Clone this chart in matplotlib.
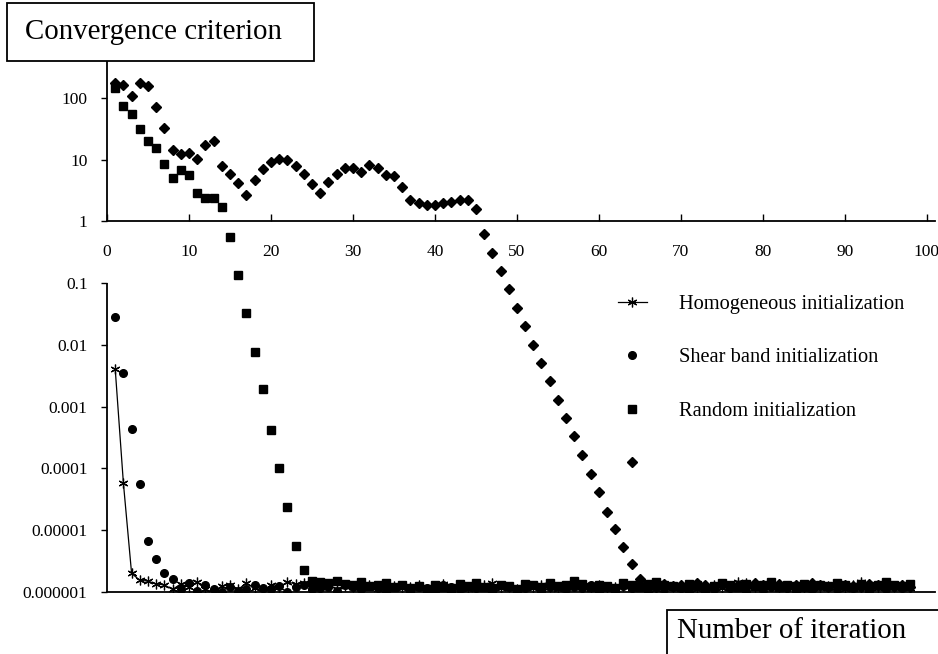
import numpy as np
import matplotlib.pyplot as plt
from matplotlib.patches import Rectangle

plt.rcParams['font.family'] = ['Liberation Serif', 'DejaVu Serif']

# iteration numbers shared by every run
iterations = np.arange(1, 99)

# Homogeneous initialization: iterations 1-8, then converged tail (units of 1e-6) for 9-98
homog_start = [4.1e-3, 5.8e-5, 2.0e-6, 1.55e-6, 1.5e-6, 1.35e-6, 1.3e-6, 1.1e-6]
homog_tail = [1.35, 1.2, 1.45, 1.1, 1.0, 1.25, 1.3, 1.1, 1.4, 1.15,
              1.0, 1.3, 1.2, 1.45, 1.35, 1.4, 1.15, 1.2, 1.3, 1.1,
              1.25, 1.2, 1.15, 1.3, 1.1, 1.2, 1.25, 1.15, 1.2, 1.3,
              1.1, 1.2, 1.35, 1.15, 1.2, 1.1, 1.25, 1.3, 1.4, 1.15,
              1.2, 1.1, 1.25, 1.15, 1.3, 1.2, 1.1, 1.25, 1.45, 1.2,
              1.15, 1.3, 1.1, 1.2, 1.25, 1.15, 1.4, 1.2, 1.1, 1.3,
              1.2, 1.15, 1.25, 1.1, 1.2, 1.3, 1.15, 1.2, 1.45, 1.4,
              1.2, 1.1, 1.25, 1.15, 1.2, 1.3, 1.1, 1.2, 1.15, 1.25,
              1.2, 1.1, 1.3, 1.45, 1.2, 1.15, 1.25, 1.2, 1.3, 1.15]

# Shear band initialization: iterations 1-8, tail 9-98
shear_start = [2.8e-2, 3.5e-3, 4.4e-4, 5.5e-5, 6.8e-6, 3.4e-6, 2.0e-6, 1.6e-6]
shear_tail = [1.1, 1.4, 1.05, 1.3, 1.1, 1.0, 1.2, 1.05, 1.1, 1.3,
              1.15, 1.1, 1.25, 1.0, 1.2, 1.3, 1.1, 1.15, 1.2, 1.05,
              1.3, 1.2, 1.1, 1.25, 1.15, 1.05, 1.2, 1.3, 1.1, 1.2,
              1.15, 1.05, 1.3, 1.2, 1.1, 1.25, 1.15, 1.2, 1.05, 1.3,
              1.2, 1.1, 1.15, 1.3, 1.05, 1.2, 1.25, 1.1, 1.2, 1.15,
              1.3, 1.05, 1.2, 1.1, 1.25, 1.15, 1.2, 1.05, 1.3, 1.1,
              1.2, 1.15, 1.05, 1.25, 1.2, 1.1, 1.3, 1.15, 1.2, 1.05,
              1.25, 1.1, 1.2, 1.3, 1.15, 1.05, 1.2, 1.1, 1.25, 1.2,
              1.1, 1.3, 1.15, 1.2, 1.05, 1.25, 1.1, 1.2, 1.15, 1.3]

# Random initialization (squares): iterations 1-24, tail 25-98
square_start = [145, 74, 55, 31, 20, 15.5, 8.5, 5.0, 6.8, 5.6,
                2.9, 2.4, 2.4, 1.7, 0.56, 0.135, 0.033, 0.0077, 0.0019, 4.2e-4,
                1.0e-4, 2.4e-5, 5.6e-6, 2.3e-6]
square_tail = [1.5, 1.45, 1.4, 1.5, 1.35, 1.3, 1.45, 1.25, 1.3, 1.4,
               1.2, 1.3, 1.15, 1.25, 1.1, 1.3, 1.2, 1.15, 1.35, 1.25,
               1.4, 1.2, 1.15, 1.3, 1.25, 1.1, 1.35, 1.3, 1.2, 1.4,
               1.25, 1.3, 1.5, 1.35, 1.2, 1.3, 1.25, 1.15, 1.4, 1.3,
               1.2, 1.35, 1.45, 1.3, 1.25, 1.2, 1.35, 1.3, 1.15, 1.25,
               1.4, 1.3, 1.2, 1.35, 1.25, 1.3, 1.45, 1.2, 1.3, 1.25,
               1.35, 1.2, 1.3, 1.25, 1.4, 1.3, 1.2, 1.35, 1.25, 1.3,
               1.45, 1.3, 1.25, 1.35]

# Random initialization (diamonds): iterations 1-65, tail 66-98
diamond_start = [175, 162, 105, 175, 155, 71, 32, 14.5, 12.4, 12.9,
                 10.2, 17.4, 20, 7.8, 5.9, 4.2, 2.7, 4.6, 7.0, 9.3,
                 10.3, 10.0, 7.9, 5.9, 4.0, 2.9, 4.3, 5.9, 7.2, 7.3,
                 6.2, 8.2, 7.2, 5.6, 5.5, 3.6, 2.24, 1.95, 1.85, 1.87,
                 1.95, 2.05, 2.2, 2.24, 1.6, 0.62, 0.31, 0.16, 0.08, 0.04,
                 0.02, 0.01, 0.005, 0.0026, 0.0013, 6.5e-4, 3.3e-4, 1.66e-4, 8.1e-5, 4.1e-5,
                 2.0e-5, 1.04e-5, 5.4e-6, 2.85e-6, 1.6e-6]
diamond_tail = [1.3, 1.2, 1.35, 1.25, 1.3, 1.15, 1.4, 1.3, 1.2, 1.35,
                1.25, 1.3, 1.2, 1.4, 1.3, 1.25, 1.35, 1.2, 1.3, 1.25,
                1.4, 1.3, 1.2, 1.35, 1.3, 1.25, 1.2, 1.35, 1.3, 1.4,
                1.25, 1.3, 1.2]

homog = np.concatenate([homog_start, np.array(homog_tail) * 1e-6])
shear = np.concatenate([shear_start, np.array(shear_tail) * 1e-6])
square = np.concatenate([square_start, np.array(square_tail) * 1e-6])
diamond = np.concatenate([diamond_start, np.array(diamond_tail) * 1e-6])

legend_labels = ['Homogeneous initialization', 'Shear band initialization',
                 'Random initialization', '']
ytick_vals = [1e-6, 1e-5, 1e-4, 1e-3, 1e-2, 1e-1, 1, 10, 100]
ytick_labels = ['0.000001', '0.00001', '0.0001', '0.001', '0.01', '0.1', '1', '10', '100']
xtick_vals = np.arange(0, 101, 10)

W, H = 938, 654
fig = plt.figure(figsize=(W / 100, H / 100), dpi=100)
ax = fig.add_axes([107 / W, 1 - 592 / H, 828 / W, 556 / H])

ax.set_yscale('log')
ax.set_xlim(0, 101)
ax.set_ylim(1e-6, 1e3)

h1, = ax.plot(iterations, homog, color='black', lw=0.9, marker=(6, 2, 0),
              markersize=7, markeredgewidth=0.9, zorder=4)
h2, = ax.plot(iterations, shear, ls='none', marker='o', color='black', markersize=5.5, zorder=3)
h3, = ax.plot(iterations, square, ls='none', marker='s', color='black', markersize=5.5, zorder=3)
h4, = ax.plot(iterations, diamond, ls='none', marker='D', color='black', markersize=4.7, zorder=3)

# axis lines: x axis drawn through y = 1, left axis broken between 0.1 and 1
for side in ['top', 'right', 'left']:
    ax.spines[side].set_visible(False)
ax.spines['bottom'].set_position(('data', 1))
ax.spines['bottom'].set_linewidth(1.3)
ax.axhline(1e-6, color='black', lw=1.3, clip_on=False)
ax.vlines(0, 1, 1e3, color='black', lw=1.3, clip_on=False)
ax.vlines(0, 1e-6, 0.1, color='black', lw=1.3, clip_on=False)

ax.set_yticks(ytick_vals)
ax.set_yticklabels(ytick_labels)
ax.yaxis.set_minor_locator(plt.NullLocator())
ax.tick_params(axis='y', direction='out', length=4, width=1, pad=10, labelsize=12.5)

ax.set_xticks(xtick_vals)
ax.tick_params(axis='x', direction='in', length=5, width=1, pad=16, labelsize=12.5)

leg = ax.legend([h1, h2, h3, h4], legend_labels, loc='upper left',
                bbox_to_anchor=(618 / W, 1 - 295 / H), bbox_transform=fig.transFigure,
                frameon=False, fontsize=14.7, handlelength=1.4, handletextpad=1.6,
                labelspacing=1.66, borderpad=0, borderaxespad=0)

# boxed axis titles
fig.patches.append(Rectangle((7 / W, 1 - 61 / H), 307 / W, 58 / H, transform=fig.transFigure,
                             facecolor='white', edgecolor='black', lw=1.3, zorder=10))
fig.text(25 / W, 1 - 32 / H, 'Convergence criterion', fontsize=20.8, va='center', ha='left', zorder=11)

fig.patches.append(Rectangle((667 / W, 1 - 660 / H), 280 / W, 50 / H, transform=fig.transFigure,
                             facecolor='white', edgecolor='black', lw=1.3, zorder=10))
fig.text(677 / W, 1 - 631 / H, 'Number of iteration', fontsize=20.8, va='center', ha='left', zorder=11)

fig.savefig('out.png', dpi=100)
